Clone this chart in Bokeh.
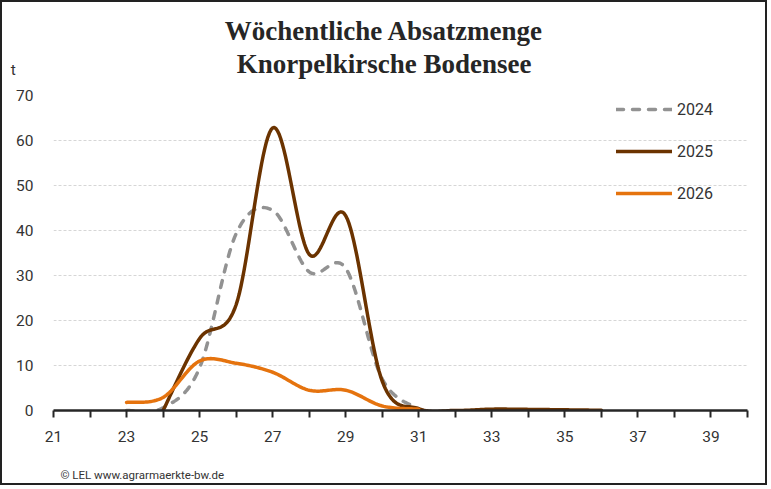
import numpy as np
from bokeh.plotting import figure
from bokeh.models import (Range1d, FixedTicker, Label, Legend, LegendItem)
from bokeh.embed import file_html
from bokeh.resources import INLINE

# ---- data (weekly sales, t) ----
title_lines = ["Wöchentliche Absatzmenge", "Knorpelkirsche Bodensee"]
y_unit = "t"
footer = "© LEL www.agrarmaerkte-bw.de"

weeks_2024 = [23, 24, 25, 26, 27, 28, 29, 30, 31]
vals_2024 = [0.0, 0.6, 9.5, 39.3, 44.5, 30.8, 31.6, 7.0, 0.3]

weeks_2025 = [24, 25, 26, 27, 28, 29, 30, 31, 32, 33, 34, 35, 36]
vals_2025 = [0.0, 16.0, 23.5, 62.8, 34.7, 43.3, 6.5, 0.4, 0.0, 0.3, 0.25, 0.15, 0.05]

weeks_2026 = [23, 24, 25, 26, 27, 28, 29, 30, 31]
vals_2026 = [1.8, 2.9, 11.0, 10.5, 8.5, 4.5, 4.5, 1.0, 0.3]

x_ticks = list(range(21, 41))
x_labels = [str(w) if (w % 2 == 1 and w < 40) else "" for w in x_ticks]
y_ticks = [0, 10, 20, 30, 40, 50, 60, 70]

series_names = ["2024", "2025", "2026"]
colors = ["#929292", "#6b3300", "#e5730e"]


def smooth(xs, ys, n=24):
    """Excel-like smoothed line through the points (cubic Bezier, Catmull-Rom tangents)."""
    P = np.column_stack([np.asarray(xs, float), np.asarray(ys, float)])
    m = len(P)
    outx, outy = [], []
    t = np.linspace(0, 1, n)
    for i in range(m - 1):
        p0 = P[i - 1] if i > 0 else P[i]
        p1 = P[i]
        p2 = P[i + 1]
        p3 = P[i + 2] if i + 2 < m else P[i + 1]
        c1 = p1 + (p2 - p0) / 6.0
        c2 = p2 - (p3 - p1) / 6.0
        tt = t if i == 0 else t[1:]
        b = ((1 - tt) ** 3)[:, None] * p1 + (3 * (1 - tt) ** 2 * tt)[:, None] * c1 \
            + (3 * (1 - tt) * tt ** 2)[:, None] * c2 + (tt ** 3)[:, None] * p2
        outx.extend(b[:, 0])
        outy.extend(b[:, 1])
    return outx, outy


W, H = 767, 485
p = figure(width=W, height=H, output_backend="svg", toolbar_location=None,
           x_range=Range1d(21, 40), y_range=Range1d(0, 70),
           min_border_left=51, min_border_right=22, min_border_top=93,
           min_border_bottom=77)
p.styles = {"border": "2px solid #222222"}
p.outline_line_color = None
p.background_fill_color = "white"
p.border_fill_color = "white"

# axes
xa = p.xaxis[0]
xa.ticker = FixedTicker(ticks=x_ticks)
xa.major_label_overrides = {t: l for t, l in zip(x_ticks, x_labels)}
xa.axis_line_color = "#262626"
xa.axis_line_width = 2.5
xa.major_tick_line_color = "#262626"
xa.major_tick_line_width = 2
xa.major_tick_out = 7
xa.major_tick_in = 0
xa.minor_tick_line_color = None
xa.major_label_text_font = "Roboto"
xa.major_label_text_font_size = "15.5px"
xa.major_label_text_color = "#333333"
xa.major_label_standoff = 13

ya = p.yaxis[0]
ya.ticker = FixedTicker(ticks=y_ticks)
ya.axis_line_color = None
ya.major_tick_line_color = None
ya.minor_tick_line_color = None
ya.major_label_text_font = "Roboto"
ya.major_label_text_font_size = "15.5px"
ya.major_label_text_color = "#333333"
ya.major_label_standoff = 14

p.xgrid.grid_line_color = None
p.ygrid.ticker = FixedTicker(ticks=y_ticks[1:])
p.ygrid.grid_line_color = "#d6d6d6"
p.ygrid.grid_line_dash = "3 2"
p.ygrid.grid_line_width = 1

# series
renderers = []
for wk, vals, col, name in [(weeks_2024, vals_2024, colors[0], series_names[0]),
                            (weeks_2025, vals_2025, colors[1], series_names[1]),
                            (weeks_2026, vals_2026, colors[2], series_names[2])]:
    sx, sy = smooth(wk, vals)
    kw = dict(line_color=col, line_width=3.5, line_cap="round", line_join="round")
    if name == "2024":
        kw["line_dash"] = "7 9"
    r = p.line(sx, sy, **kw)
    renderers.append(r)

legend = Legend(items=[LegendItem(label=n, renderers=[r]) for n, r in zip(series_names, renderers)],
                location=(563, 207), padding=0, margin=0, spacing=22,
                glyph_width=56, glyph_height=20, label_height=20, label_standoff=5,
                label_text_font="Roboto", label_text_font_size="16px",
                label_text_color="#333333",
                background_fill_alpha=0, border_line_color=None)
p.add_layout(legend)

# texts outside the frame: labels in data units placed in a side panel (not clipped)
texts = [
    Label(x=30.05, y=84.4, text=title_lines[0], text_align="center",
          text_baseline="middle", text_font="Liberation Serif",
          text_font_style="bold", text_font_size="27px", text_color="#262626"),
    Label(x=30.05, y=76.9, text=title_lines[1], text_align="center",
          text_baseline="middle", text_font="Liberation Serif",
          text_font_style="bold", text_font_size="27px", text_color="#262626"),
    Label(x=19.9, y=75.6, text=y_unit, text_align="center",
          text_baseline="middle", text_font="Roboto",
          text_font_size="15.5px", text_color="#333333"),
    Label(x=21.19, y=-14.3, text=footer, text_align="left",
          text_baseline="middle", text_font="Roboto",
          text_font_size="11.5px", text_color="#333333"),
]
for lab in texts:
    p.add_layout(lab, "above")

open("out.html", "w").write(file_html(p, INLINE))
